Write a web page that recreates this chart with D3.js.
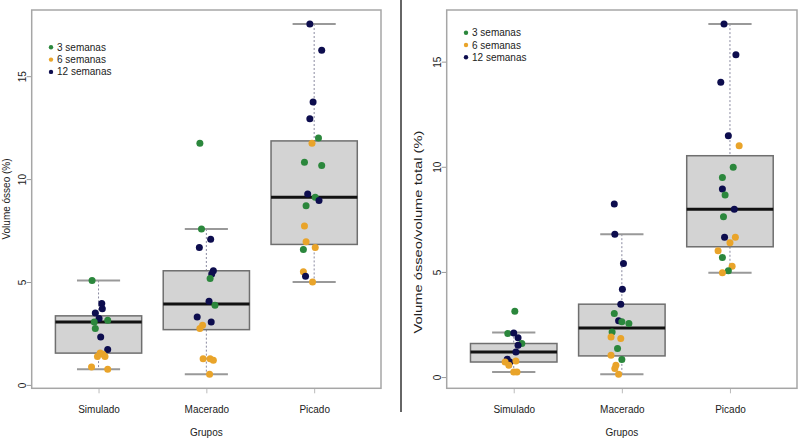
<!DOCTYPE html>
<html>
<head>
<meta charset="utf-8">
<script src="https://cdnjs.cloudflare.com/ajax/libs/d3/7.8.5/d3.min.js"></script>
<style>
body { margin: 0; background: #fff; }
text { font-family: "Liberation Sans", Arial, sans-serif; fill: #222; }
</style>
</head>
<body>
<div id="chart"></div>
<script>
var categories = ["Simulado", "Macerado", "Picado"];
var weeks = ["3 semanas", "6 semanas", "12 semanas"];
var yTicks = [0, 5, 10, 15];

// left panel box stats
var leftLow = [0.78, 0.54, 5.03];
var leftQ1 = [1.57, 2.71, 6.85];
var leftMedian = [3.08, 3.95, 9.14];
var leftQ3 = [3.38, 5.57, 11.88];
var leftHigh = [5.1, 7.6, 17.56];

// left panel points: [group, week, value, jitter]
var leftPoints = [
    [0, 0, 5.1, -0.06], [0, 2, 3.98, 0.03], [0, 2, 3.73, 0.035], [0, 2, 3.52, -0.03],
    [0, 2, 3.25, 0.005], [0, 0, 3.17, 0.085], [0, 0, 3.08, -0.04], [0, 0, 2.76, -0.03],
    [0, 2, 2.35, 0.02], [0, 2, 1.74, 0.085], [0, 1, 1.57, 0.015], [0, 1, 1.52, 0.04],
    [0, 1, 1.41, -0.01], [0, 1, 1.41, 0.06], [0, 1, 0.89, -0.065], [0, 1, 0.78, 0.085],
    [1, 0, 11.77, -0.06], [1, 0, 7.6, -0.045], [1, 2, 7.1, 0.04], [1, 2, 6.7, -0.065],
    [1, 2, 5.57, 0.065], [1, 2, 5.41, 0.05], [1, 0, 5.2, 0.035], [1, 2, 4.09, 0.025],
    [1, 0, 3.9, 0.08], [1, 2, 3.33, -0.085], [1, 2, 3.08, 0.045], [1, 1, 2.92, -0.035],
    [1, 1, 2.76, -0.06], [1, 1, 1.3, -0.03], [1, 1, 1.3, 0.035], [1, 1, 1.22, 0.065],
    [1, 1, 0.54, 0.03],
    [2, 2, 17.56, -0.04], [2, 2, 16.28, 0.07], [2, 2, 13.77, -0.01], [2, 2, 12.96, -0.04],
    [2, 0, 12.02, 0.04], [2, 1, 11.77, -0.02], [2, 0, 10.84, -0.09], [2, 0, 10.68, 0.07],
    [2, 2, 9.3, -0.06], [2, 0, 9.14, 0.01], [2, 2, 8.98, 0.045], [2, 0, 8.73, -0.075],
    [2, 1, 7.74, -0.09], [2, 1, 6.98, -0.075], [2, 1, 6.7, 0.01], [2, 0, 6.6, -0.1],
    [2, 1, 5.52, -0.1], [2, 2, 5.31, -0.08], [2, 1, 5.03, -0.015]
];

// right panel box stats
var rightLow = [0.27, 0.16, 4.98];
var rightQ1 = [0.74, 1.03, 6.22];
var rightMedian = [1.22, 2.36, 8.0];
var rightQ3 = [1.62, 3.49, 10.55];
var rightHigh = [2.14, 6.82, 16.81];

// right panel points: [group, week, value, jitter]
var rightPoints = [
    [0, 0, 3.16, 0.01], [0, 0, 2.1, -0.055], [0, 2, 2.12, 0], [0, 2, 1.89, 0.04],
    [0, 0, 1.62, 0.075], [0, 2, 1.54, 0.04], [0, 2, 1.22, 0.02], [0, 2, 0.87, -0.06],
    [0, 2, 0.74, -0.035], [0, 1, 0.74, -0.08], [0, 1, 0.79, 0.02], [0, 1, 0.59, -0.045],
    [0, 1, 0.27, 0], [0, 1, 0.27, 0.03],
    [1, 2, 8.25, -0.07], [1, 2, 6.82, -0.065], [1, 2, 5.43, 0.015], [1, 2, 4.2, 0.005],
    [1, 2, 3.49, -0.01], [1, 0, 3.05, -0.07], [1, 2, 2.7, -0.03], [1, 0, 2.65, 0],
    [1, 0, 2.57, 0.065], [1, 0, 2.17, -0.09], [1, 1, 1.93, -0.1], [1, 1, 1.86, -0.01],
    [1, 0, 1.38, -0.04], [1, 1, 1.06, -0.1], [1, 0, 0.86, 0], [1, 1, 0.59, -0.055],
    [1, 1, 0.43, -0.065], [1, 1, 0.16, -0.03],
    [2, 2, 16.81, -0.055], [2, 2, 15.35, 0.055], [2, 2, 14.05, -0.085], [2, 2, 11.5, -0.015],
    [2, 1, 11.03, 0.085], [2, 0, 10.0, 0.03], [2, 0, 9.52, -0.07], [2, 2, 8.97, -0.07],
    [2, 0, 8.68, -0.045], [2, 2, 8.0, 0.04], [2, 0, 7.65, -0.06], [2, 2, 6.67, -0.05],
    [2, 1, 6.67, 0.05], [2, 1, 6.41, 0], [2, 1, 6.03, -0.11], [2, 0, 5.71, -0.07],
    [2, 1, 5.3, 0.02], [2, 0, 5.08, -0.015], [2, 1, 4.98, -0.07]
];

var colors = ["#2b873c", "#e9a42a", "#0d0d4e"];

var width = 800, height = 443;

var svg = d3.select("#chart")
    .append("svg")
    .attr("width", width)
    .attr("height", height);

//separator between the two figures
svg.append("line")
    .attr("x1", 401).attr("x2", 401)
    .attr("y1", 0).attr("y2", 412)
    .attr("stroke", "#666")
    .attr("stroke-width", 2);

function drawPanel(p) {
    var x = d3.scaleLinear().domain([0.38, 3.62]).range([p.left, p.right]);
    var y = d3.scaleLinear().domain(p.yDomain).range([p.bottom, p.top]);
    var g = svg.append("g");

    // axes
    var yAxis = d3.axisLeft(y).tickValues(yTicks).tickSize(5).tickSizeOuter(0).tickPadding(4);
    var ya = g.append("g")
        .attr("transform", "translate(" + p.left + ",0)")
        .call(yAxis);
    ya.select(".domain").remove();
    ya.selectAll("line").attr("stroke", "#999");
    ya.selectAll("text")
        .attr("font-size", 10)
        .attr("transform", function(d) { return "rotate(-90," + (-9) + "," + y(d) + ")"; })
        .attr("x", -9)
        .attr("y", y)
        .attr("dy", "0.35em")
        .attr("text-anchor", "middle");
    ya.attr("font-family", null);
    ya.selectAll(".tick").attr("transform", null);
    ya.selectAll(".tick line").attr("y1", function(d) { return y(d); }).attr("y2", function(d) { return y(d); });

    var xAxis = d3.axisBottom(x).tickValues([1, 2, 3]).tickSize(5).tickSizeOuter(0).tickPadding(13)
        .tickFormat(function(d) { return categories[d - 1]; });
    var xa = g.append("g")
        .attr("transform", "translate(0," + p.bottom + ")")
        .call(xAxis);
    xa.select(".domain").remove();
    xa.attr("font-family", null);
    xa.selectAll("line").attr("stroke", "#bbb");
    xa.selectAll("text").attr("font-size", 10);

    g.append("text")
        .attr("x", (p.left + p.right) / 2)
        .attr("y", 436)
        .attr("text-anchor", "middle")
        .attr("font-size", 10)
        .text("Grupos");

    var t = g.append("text")
        .attr("transform", "translate(" + p.titleX + "," + p.titleY + ") rotate(-90)")
        .attr("text-anchor", "middle")
        .attr("font-size", p.titleSize)
        .text(p.title);
    if (p.titleLength) {
        t.attr("textLength", p.titleLength).attr("lengthAdjust", "spacingAndGlyphs");
    }

    // boxes
    var half = 0.4;
    categories.forEach(function(c, i) {
        var cx = i + 1;
        // whiskers
        g.append("line")
            .attr("x1", x(cx)).attr("x2", x(cx))
            .attr("y1", y(p.high[i])).attr("y2", y(p.q3[i]))
            .attr("stroke", "#8a8aa0").attr("stroke-dasharray", "2,2");
        g.append("line")
            .attr("x1", x(cx)).attr("x2", x(cx))
            .attr("y1", y(p.q1[i])).attr("y2", y(p.low[i]))
            .attr("stroke", "#8a8aa0").attr("stroke-dasharray", "2,2");
        [p.high[i], p.low[i]].forEach(function(v) {
            g.append("line")
                .attr("x1", x(cx - half / 2)).attr("x2", x(cx + half / 2))
                .attr("y1", y(v)).attr("y2", y(v))
                .attr("stroke", "#999").attr("stroke-width", 2);
        });
        g.append("rect")
            .attr("x", x(cx - half))
            .attr("width", x(cx + half) - x(cx - half))
            .attr("y", y(p.q3[i]))
            .attr("height", y(p.q1[i]) - y(p.q3[i]))
            .attr("fill", "#d3d3d3")
            .attr("stroke", "#6f6f6f")
            .attr("stroke-width", 1.5);
        g.append("line")
            .attr("x1", x(cx - half)).attr("x2", x(cx + half))
            .attr("y1", y(p.median[i])).attr("y2", y(p.median[i]))
            .attr("stroke", "#111").attr("stroke-width", 3);
    });

    // points
    g.selectAll("circle.pt")
        .data(p.points)
        .enter()
        .append("circle")
        .attr("class", "pt")
        .attr("cx", function(d) { return x(d[0] + 1 + d[3]); })
        .attr("cy", function(d) { return y(d[2]); })
        .attr("r", 3.5)
        .attr("fill", function(d) { return colors[d[1]]; });

    // frame
    g.append("rect")
        .attr("x", p.left).attr("y", p.top)
        .attr("width", p.right - p.left)
        .attr("height", p.bottom - p.top)
        .attr("fill", "none")
        .attr("stroke", "#a6a6a6")
        .attr("stroke-width", 1.5);

    // legend
    weeks.forEach(function(w, i) {
        g.append("circle")
            .attr("cx", p.legendX)
            .attr("cy", p.legendY + i * 12.3)
            .attr("r", 2.2)
            .attr("fill", colors[i]);
        g.append("text")
            .attr("x", p.legendX + 6)
            .attr("y", p.legendY + i * 12.3)
            .attr("dy", "0.35em")
            .attr("font-size", 10)
            .text(w);
    });
}

drawPanel({
    left: 31.7, right: 381, top: 10, bottom: 388.3,
    yDomain: [-0.14, 18.24],
    low: leftLow, q1: leftQ1, median: leftMedian, q3: leftQ3, high: leftHigh,
    points: leftPoints,
    title: "Volume ósseo (%)", titleX: 10, titleY: 199, titleSize: 10,
    legendX: 51, legendY: 47.3
});

drawPanel({
    left: 446.7, right: 797, top: 10, bottom: 388.3,
    yDomain: [-0.51, 17.48],
    low: rightLow, q1: rightQ1, median: rightMedian, q3: rightQ3, high: rightHigh,
    points: rightPoints,
    title: "Volume ósseo/volume total (%)", titleX: 422, titleY: 232, titleSize: 11,
    titleLength: 203,
    legendX: 466, legendY: 32.7
});
</script>
</body>
</html>
